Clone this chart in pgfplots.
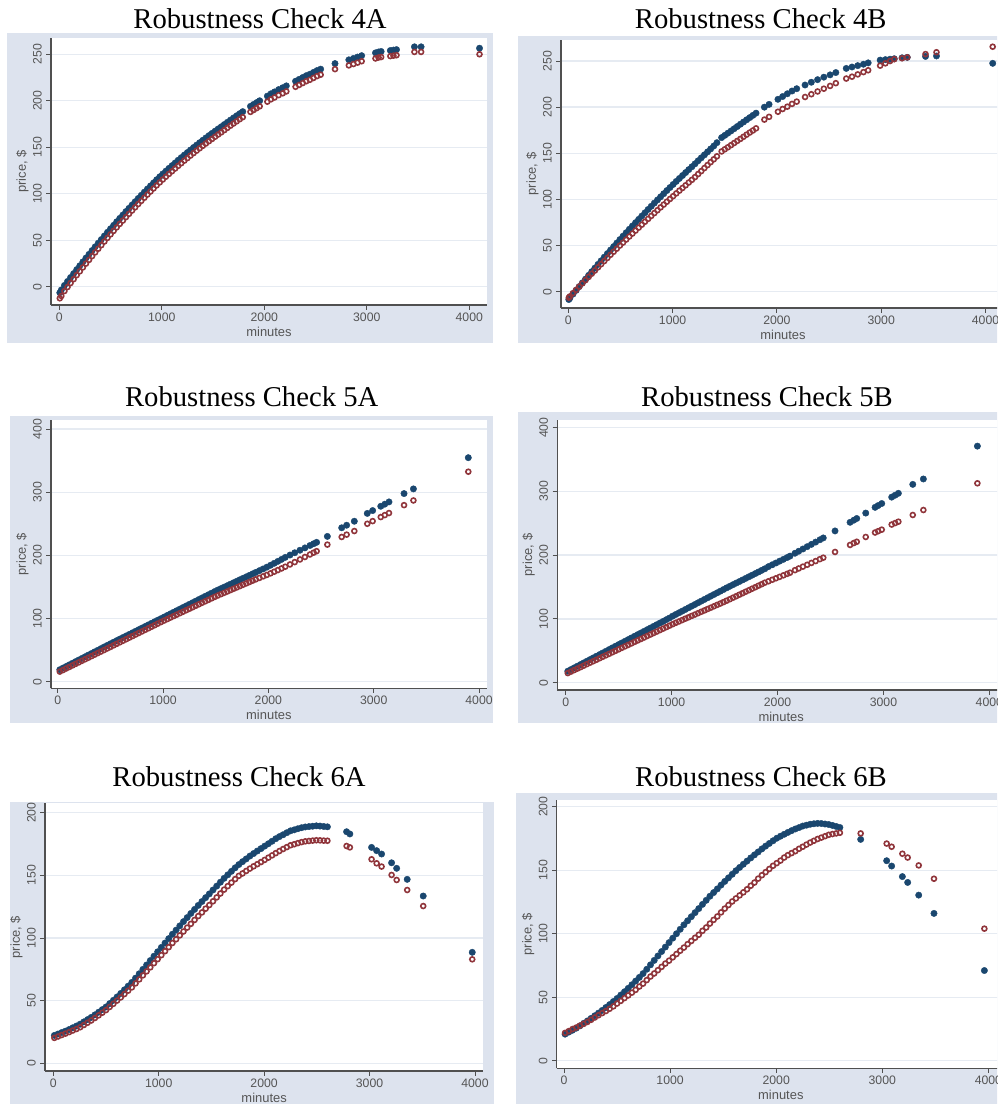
\documentclass[border=0pt]{standalone}
\usepackage{pgfplots}
\pgfplotsset{compat=1.18}
\usepackage{pgfplotstable}
\usepackage{fontspec}
\setmainfont{Liberation Sans}
\newfontfamily\titlefont{Liberation Serif}
\definecolor{stnavy}{RGB}{26,71,111}
\definecolor{stmaroon}{RGB}{144,53,59}
\definecolor{framec}{RGB}{221,227,238}
\definecolor{gridc}{RGB}{230,235,242}
\definecolor{axc}{RGB}{80,80,80}
\definecolor{txtc}{RGB}{85,85,85}

\pgfplotsset{
 robust/.style={
  scale only axis,
  anchor=south west,
  axis lines=left,
  axis line style={-, draw=axc, line width=0.8pt},
  every outer x axis line/.append style={-},
  every outer y axis line/.append style={-},
  tick align=outside,
  major tick length=3.5pt,
  tick style={draw=axc, line width=0.7pt},
  xtick={0,1000,2000,3000,4000},
  minor tick num=0,
  scaled ticks=false,
  /pgf/number format/1000 sep={},
  /pgf/number format/assume math mode=true,
  ymajorgrids,
  major grid style={draw=gridc, line width=1pt},
  axis background/.style={fill=white},
  tick label style={font=\fontsize{9.2}{10}\selectfont, text=txtc},
  xticklabel style={anchor=north, inner sep=0pt, yshift=-2pt},
  yticklabel style={xshift=-3.3pt, rotate=90, anchor=south, inner sep=0pt},
  xlabel={minutes}, ylabel={price, \$},
  every axis x label/.style={at={(axis description cs:0.5,0)}, anchor=center, yshift=-20pt, font=\fontsize{9.7}{11}\selectfont, text=txtc},
  every axis y label/.style={at={(axis description cs:0,0.5)}, xshift=-21.4pt, rotate=90, anchor=center, font=\fontsize{9.7}{11}\selectfont, text=txtc},
 },
 bl/.style={only marks, mark=*, mark size=2.4pt, mark options={fill=stnavy, draw=stnavy, line width=0.3pt}},
 rd/.style={only marks, mark=o, mark size=1.85pt, mark options={draw=stmaroon, line width=1.2pt}},
}

\pgfplotstableread{
x b r
5 -6.5 -12.5
20 -3.5 -10
50 1.3 -4.7
80 5.6 -0.4
110 9.9 3.9
140 14.1 8.1
170 18.4 12.4
200 22.5 16.5
230 26.7 20.7
260 30.8 24.8
290 34.8 28.8
320 38.9 32.9
350 42.9 36.9
380 46.8 40.8
410 50.7 44.7
440 54.6 48.6
470 58.5 52.5
500 62.3 56.3
530 66.0 60.0
560 69.8 63.8
590 73.5 67.5
620 77.1 71.1
650 80.8 74.8
680 84.3 78.3
710 87.9 81.9
740 91.4 85.4
770 94.9 88.9
800 98.3 92.3
830 101.7 95.7
860 105.1 99.1
890 108.4 102.4
920 111.7 105.7
950 115.0 109.0
980 118.2 112.2
1010 121.3 115.3
1040 124.3 118.3
1070 127.3 121.3
1100 130.2 124.2
1130 133.1 127.1
1160 136.0 130.0
1190 138.8 132.8
1220 141.6 135.6
1250 144.3 138.3
1280 147.0 141.0
1310 149.7 143.7
1340 152.3 146.3
1370 154.9 148.9
1400 157.5 151.5
1430 160.0 154.0
1460 162.5 156.5
1490 164.9 158.9
1520 167.3 161.3
1550 169.7 163.7
1580 172.0 166.0
1610 174.4 168.4
1640 176.8 170.8
1670 179.2 173.2
1700 181.5 175.5
1730 183.8 177.8
1760 186.1 180.1
1790 188.3 182.3
1865 194 188
1895 196 190
1925 198 192
1955 200 194
2030 205 199
2065 207.5 201.5
2100 209.5 203.5
2140 212 206
2180 214 208
2215 216 210
2305 221 215
2340 223 217
2375 225 219
2410 227 221
2445 228.5 222.5
2480 230.5 224.5
2515 232.5 226.5
2550 234 228
2690 240 234
2825 244 238
2870 245.5 239.5
2910 247 241
2950 248.5 242.5
3085 251.5 245.5
3115 252.5 246.5
3140 253 247
3230 254 248
3260 254.5 248.5
3290 255 249
3465 258 252.5
3530 258 252.5
4100 256.5 250
}\tfourA

\pgfplotstableread{
x b r
5 -8.5 -6.5
15 -6.9 -5.2
45 -2.7 -1.6
75 1.4 1.9
105 5.5 5.5
135 9.6 9.0
165 13.6 12.5
195 17.7 16.0
225 21.7 19.5
255 25.6 22.9
285 29.6 26.4
315 33.5 29.8
345 37.4 33.2
375 41.3 36.6
405 45.1 40.0
435 48.9 43.3
465 52.7 46.6
495 56.5 50.0
525 60.2 53.2
555 63.9 56.5
585 67.6 59.8
615 71.2 63.0
645 74.8 66.2
675 78.4 69.4
705 82.0 72.6
735 85.5 75.8
765 89.1 78.9
795 92.5 82.1
825 96.0 85.2
855 99.4 88.3
885 102.8 91.4
915 106.2 94.4
945 109.6 97.5
975 112.9 100.5
1005 116.2 103.5
1035 119.5 106.5
1065 122.7 109.5
1095 125.9 112.4
1125 129.1 115.3
1155 132.3 118.3
1185 135.4 121.2
1215 138.6 124.2
1245 141.9 127.5
1275 145.1 130.7
1305 148.3 134.0
1335 151.5 137.2
1365 154.7 140.4
1395 157.9 143.5
1425 161.5 146.7
1470 167.0 152.0
1500 169.4 154.3
1530 171.8 156.5
1560 174.2 158.8
1590 176.6 161.1
1620 179.0 163.4
1650 181.5 165.6
1680 183.9 167.9
1710 186.3 170.2
1740 188.7 172.5
1770 191.1 174.7
1800 193.5 177.0
1880 200.0 186.5
1925 203.0 189.5
2010 208.5 195.0
2055 211.5 198.0
2100 214.5 200.5
2145 217.5 203.5
2190 220.0 206.0
2270 224.0 211.0
2330 227.0 214.0
2390 229.8 217.0
2450 232.5 220.0
2510 235.0 223.0
2565 237.5 226.0
2665 242.0 231.0
2720 243.5 233.0
2775 245.0 235.5
2830 246.5 238.0
2875 248.0 240.0
2990 251.0 245.0
3040 251.5 247.5
3085 252.0 250.0
3125 252.5 252.0
3200 253.5 253.0
3250 254.0 254.0
3425 255.0 257.5
3530 255.5 259.5
4069 247.5 265.5
}\tfourB

\pgfplotstableread{
x b r
20 19.0 16.0
50 21.6 18.4
80 24.1 20.9
110 26.7 23.3
140 29.2 25.8
170 31.8 28.2
200 34.4 30.6
230 36.9 33.1
260 39.5 35.5
290 42.1 37.9
320 44.6 40.4
350 47.2 42.8
380 49.7 45.3
410 52.3 47.7
440 54.9 50.1
470 57.4 52.6
500 60.0 55.0
530 62.5 57.5
560 65.0 59.9
590 67.5 62.4
620 70.0 64.8
650 72.5 67.3
680 74.9 69.8
710 77.4 72.2
740 79.9 74.7
770 82.4 77.1
800 84.9 79.6
830 87.4 82.1
860 89.9 84.5
890 92.4 87.0
920 94.9 89.4
950 97.4 91.9
980 99.8 94.4
1010 102.3 96.8
1040 104.9 99.1
1070 107.4 101.5
1100 109.9 103.8
1130 112.4 106.1
1160 114.9 108.5
1190 117.5 110.8
1220 120.0 113.2
1250 122.5 115.5
1280 125.0 117.8
1310 127.5 120.2
1340 130.1 122.5
1370 132.6 124.9
1400 135.1 127.2
1430 137.6 129.5
1460 140.1 131.9
1490 142.7 134.2
1520 145.1 136.4
1550 147.4 138.6
1580 149.7 140.7
1610 152.0 142.8
1640 154.4 145.0
1670 156.7 147.1
1700 159.0 149.2
1730 161.4 151.4
1760 163.7 153.5
1790 166.0 155.6
1820 168.3 157.8
1850 170.7 159.9
1880 173.0 162.0
1915 175.8 164.3
1950 178.5 166.7
1985 181.3 169.0
2020 184.3 171.5
2055 187.4 174.1
2090 190.5 176.7
2125 193.6 179.3
2160 196.8 182.0
2205 200.5 185.6
2250 204.1 189.3
2300 208.1 193.5
2347 211.8 197.4
2395 215.6 201.4
2430 218.4 204.3
2458 220.6 206.6
2560 230.0 217.0
2696 243.6 229.1
2743 247.7 232.8
2816 254.0 238.5
2939 266.4 250.0
2990 270.9 254.2
3067 277.7 260.6
3105 281.0 263.7
3145 284.6 267.0
3288 297.8 279.5
3377 305.2 286.9
3898 354.6 332.4
}\tfiveA

\pgfplotstableread{
x b r
20 18.0 15.0
50 20.6 17.3
80 23.2 19.7
110 25.8 22.0
140 28.4 24.3
170 31.0 26.6
200 33.6 29.0
230 36.2 31.3
260 38.8 33.6
290 41.4 35.9
320 44.0 38.3
350 46.6 40.6
380 49.2 42.9
410 51.9 45.2
440 54.5 47.6
470 57.1 49.9
500 59.7 52.2
530 62.3 54.6
560 64.9 56.9
590 67.5 59.2
620 70.1 61.5
650 72.7 63.9
680 75.3 66.2
710 77.9 68.5
740 80.5 70.8
770 83.1 73.2
800 85.7 75.5
830 88.3 77.8
860 90.9 80.1
890 93.5 82.5
920 96.1 84.8
950 98.8 87.1
980 101.4 89.4
1010 104.4 91.7
1040 107.0 93.9
1070 109.6 96.0
1100 112.2 98.2
1130 114.8 100.4
1160 117.4 102.5
1190 120.0 104.7
1220 122.6 106.8
1250 125.3 109.0
1280 127.9 111.2
1310 130.5 113.3
1340 133.1 115.5
1370 135.7 117.6
1400 138.3 119.8
1430 140.9 122.0
1460 143.5 124.1
1490 146.1 126.3
1520 148.7 128.6
1550 151.2 130.9
1580 153.7 133.3
1610 156.2 135.6
1640 158.6 138.0
1670 161.1 140.3
1700 163.6 142.7
1730 166.1 145.0
1760 168.6 147.4
1790 171.1 149.7
1820 173.6 152.1
1850 176.1 154.4
1880 178.6 156.8
1914 182.0 159.0
1950 184.9 161.4
1985 187.7 163.7
2020 190.6 166.0
2055 193.4 168.3
2090 196.2 170.6
2118 198.5 172.5
2165 203.0 176.5
2200 206.1 179.1
2240 209.7 182.0
2280 213.3 184.9
2320 216.9 187.8
2360 220.5 190.7
2400 224.1 193.7
2432 227.0 196.0
2543 238.0 205.0
2685 251.5 216.0
2720 254.8 219.0
2748 257.5 221.0
2833 266.0 228.5
2921 275.0 235.5
2950 277.8 237.6
2984 281.0 240.0
3078 291.0 248.0
3110 294.0 250.3
3141 297.0 252.5
3277 311.0 263.0
3377 319.5 270.8
3887 371.0 312.7
}\tfiveB

\pgfplotstableread{
x b r
10 22.3 20.3
45 23.4 21.4
80 24.6 22.6
115 25.7 23.7
150 27.0 24.9
185 28.4 26.2
220 29.8 27.4
255 31.3 28.8
290 33.1 30.6
325 34.9 32.4
360 36.7 34.2
395 38.7 36.2
430 40.8 38.3
465 42.9 40.4
500 45.0 42.5
535 47.7 45.0
570 50.3 47.5
605 53.0 50.1
640 55.8 52.6
675 58.7 55.3
710 61.6 58.0
745 64.6 60.6
780 68.0 63.8
815 71.5 67.0
850 75.0 70.2
885 78.5 73.4
920 82.0 76.6
955 85.5 79.9
990 89.0 83.1
1025 92.5 86.3
1060 96.0 89.5
1095 99.5 92.7
1130 103.0 96.0
1165 106.3 99.0
1200 109.7 102.1
1235 113.1 105.2
1270 116.3 108.3
1305 119.6 111.3
1340 122.8 114.4
1375 126.0 117.5
1410 129.1 120.4
1445 132.2 123.4
1480 135.2 126.3
1515 138.3 129.3
1550 141.4 132.4
1585 144.5 135.5
1620 147.6 138.6
1655 150.4 141.4
1690 153.2 144.2
1725 156.0 147.0
1760 158.6 149.6
1795 160.9 151.5
1830 163.1 153.5
1865 165.4 155.4
1900 167.4 157.2
1935 169.4 158.9
1970 171.3 160.6
2005 173.3 162.3
2040 175.2 164.1
2075 177.2 165.9
2110 179.2 167.7
2145 180.9 169.4
2180 182.4 171.0
2215 184.0 172.5
2250 185.5 174.0
2285 186.3 174.8
2320 187.2 175.7
2355 188.0 176.5
2390 188.6 177.1
2425 188.9 177.4
2460 189.2 177.7
2495 189.5 178.0
2530 189.3 177.9
2565 189.0 177.7
2600 188.7 177.6
2782 184.8 173.4
2813 183.0 172.3
3019 172.3 162.8
3067 169.7 159.6
3114 167.0 157.0
3209 160.0 150.3
3257 155.6 146.3
3357 146.8 138.3
3509 133.5 125.5
3974 88.6 83.0
}\tsixA

\pgfplotstableread{
x b r
10 20.9 21.9
45 22.5 23.3
80 24.0 24.9
115 25.6 26.1
150 27.4 27.6
185 29.4 29.0
220 31.3 30.5
255 33.3 32.2
290 35.4 34.0
325 37.5 35.8
360 39.6 37.5
395 41.9 39.1
430 44.2 40.9
465 46.6 42.8
500 49.0 45.0
535 51.7 47.1
570 54.3 49.3
605 57.0 51.4
640 59.8 53.6
675 62.7 55.8
710 65.6 58.4
745 68.6 60.7
780 72.0 63.5
815 75.5 66.3
850 79.0 68.7
885 82.5 71.3
920 86.0 73.9
955 89.5 76.5
990 93.0 78.8
1025 96.5 81.4
1060 100.0 84.0
1095 103.5 86.6
1130 107.0 89.1
1165 110.2 91.8
1200 113.4 94.3
1235 116.6 96.8
1270 119.8 99.2
1305 123.1 102.3
1340 126.3 104.9
1375 129.5 108.0
1410 132.4 110.9
1445 135.3 113.6
1480 138.3 116.8
1515 141.2 119.8
1550 144.0 122.6
1585 146.8 125.4
1620 149.6 127.8
1655 152.2 130.2
1690 154.7 132.6
1725 157.2 135.0
1760 159.7 137.8
1795 162.1 140.3
1830 164.4 143.4
1865 166.8 146.1
1900 169.0 148.5
1935 171.1 151.0
1970 173.2 153.5
2005 175.2 155.6
2040 176.8 157.6
2075 178.3 160.0
2110 179.8 161.9
2145 181.2 163.5
2180 182.5 165.0
2215 183.6 166.9
2250 184.8 168.5
2285 185.5 170.2
2320 186.2 171.8
2355 186.6 173.2
2390 186.9 174.6
2425 186.8 175.7
2460 186.4 176.8
2495 186.0 177.9
2530 185.3 178.5
2565 184.5 179.0
2600 183.7 179.5
2796 174.3 179.0
3041 157.5 171.0
3088 153.3 168.5
3189 145.0 163.0
3239 140.4 160.0
3343 130.4 153.8
3487 116.0 143.3
3962 71.0 104.0
}\tsixB

\begin{document}
\begin{tikzpicture}[x=0.75pt,y=0.75pt]
\path[use as bounding box] (0,0) rectangle (997,1104);
\clip (0,0) rectangle (997,1104);
\fill[white] (0,0) rectangle (997,1104);
% frames
\fill[framec] (7,761) rectangle (493,1071);
\fill[framec] (518,761) rectangle (1000,1068);
\fill[framec] (10,381) rectangle (493,688);
\fill[framec] (518,380.7) rectangle (1000,692.3);
\fill[framec] (10,-5) rectangle (494,302);
\fill[framec] (516,-5) rectangle (1000,311);
% titles
\begin{scope}[every node/.style={anchor=base, font=\titlefont\fontsize{21.5}{24}\selectfont}]
\node at (260,1075.7) {Robustness Check 4A};
\node at (760.7,1075.7) {Robustness Check 4B};
\node at (251.7,697.3) {Robustness Check 5A};
\node at (767,697.3) {Robustness Check 5B};
\node at (239,317.3) {Robustness Check 6A};
\node at (761,317.3) {Robustness Check 6B};
\end{scope}

% 4A
\begin{axis}[robust, at={(38.25pt,599.25pt)}, width=327pt, height=200.25pt,
  xmin=-81, xmax=4173, ymin=-19.7, ymax=267.5, ytick={0,50,100,150,200,250}]
\addplot[bl] table[x=x,y=b]{\tfourA};
\addplot[rd] table[x=x,y=r]{\tfourA};
\end{axis}
% 4B
\begin{axis}[robust, at={(420.75pt,597pt)}, width=333pt, height=201pt,
  xmin=-70, xmax=4187, ymin=-17.7, ymax=272.8, ytick={0,50,100,150,200,250}]
\addplot[bl] table[x=x,y=b]{\tfourB};
\addplot[rd] table[x=x,y=r]{\tfourB};
\end{axis}
% 5A
\begin{axis}[robust, at={(38.25pt,311.775pt)}, width=326.8pt, height=201.2pt,
  xmin=-63.6, xmax=4073, ymin=-10.4, ymax=414.2, ytick={0,100,200,300,400}]
\addplot[bl] table[x=x,y=b]{\tfiveA};
\addplot[rd] table[x=x,y=r]{\tfiveA};
\end{axis}
% 5B
\begin{axis}[robust, at={(417.975pt,310.5pt)}, width=335.8pt, height=202.5pt,
  xmin=-79, xmax=4148, ymin=-11.5, ymax=412, ytick={0,100,200,300,400}]
\addplot[bl] table[x=x,y=b]{\tfiveB};
\addplot[rd] table[x=x,y=r]{\tfiveB};
\end{axis}
% 6A
\begin{axis}[robust, at={(33.75pt,24.75pt)}, width=328.7pt, height=200.8pt,
  xmin=-78.7, xmax=4078.6, ymin=-6.1, ymax=207.5, ytick={0,50,100,150,200}]
\addplot[bl] table[x=x,y=b]{\tsixA};
\addplot[rd] table[x=x,y=r]{\tsixA};
\end{axis}
% 6B
\begin{axis}[robust, at={(417.525pt,26.775pt)}, width=336.2pt, height=201.2pt,
  xmin=-69, xmax=4156, ymin=-6, ymax=205.3, ytick={0,50,100,150,200}]
\addplot[bl] table[x=x,y=b]{\tsixB};
\addplot[rd] table[x=x,y=r]{\tsixB};
\end{axis}
\end{tikzpicture}
\end{document}
